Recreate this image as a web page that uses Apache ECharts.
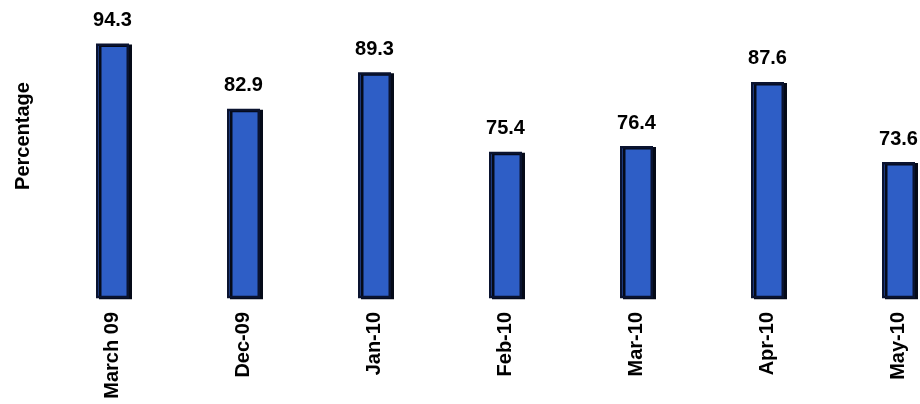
<!DOCTYPE html>
<html>
<head>
<meta charset="utf-8">
<script src="https://cdn.jsdelivr.net/npm/echarts@6/dist/echarts.min.js"></script>
<style>
html,body{margin:0;padding:0;background:#fff;}
#c{width:920px;height:404px;}
</style>
</head>
<body>
<div id="c"></div>
<script>
const categories = ['March 09', 'Dec-09', 'Jan-10', 'Feb-10', 'Mar-10', 'Apr-10', 'May-10'];
const values = [94.3, 82.9, 89.3, 75.4, 76.4, 87.6, 73.6];
const yAxisName = 'Percentage';

const chart = echarts.init(document.getElementById('c'));
chart.setOption({
  backgroundColor: '#ffffff',
  animation: false,
  grid: { left: 47, right: -44, top: 11, bottom: 107, containLabel: false, outerBoundsMode: 'none' },
  xAxis: {
    type: 'category',
    data: categories,
    axisLine: { show: false },
    axisTick: { show: false },
    axisLabel: {
      rotate: 90,
      margin: 15,
      color: '#000',
      fontFamily: 'Liberation Sans, Arial, sans-serif',
      fontWeight: 'bold',
      fontSize: 20
    }
  },
  yAxis: {
    type: 'value',
    min: 50,
    max: 100,
    name: yAxisName,
    nameLocation: 'middle',
    nameGap: 14,
    nameRotate: 90,
    nameTextStyle: {
      color: '#000',
      fontFamily: 'Liberation Sans, Arial, sans-serif',
      fontWeight: 'bold',
      fontSize: 20,
      padding: [0, 0, 0, 36]
    },
    axisLine: { show: false },
    axisTick: { show: false },
    axisLabel: { show: false },
    splitLine: { show: false }
  },
  series: [{
    type: 'bar',
    data: values,
    barWidth: 33,
    itemStyle: {
      color: '#2e5ec6',
      borderColor: '#0a1330',
      borderWidth: 2.5,
      shadowColor: '#050a18',
      shadowOffsetX: 3,
      shadowOffsetY: 1,
      shadowBlur: 0
    },
    label: {
      show: true,
      position: 'top',
      distance: 13,
      color: '#000',
      fontFamily: 'Liberation Sans, Arial, sans-serif',
      fontWeight: 'bold',
      fontSize: 20,
      formatter: p => p.value.toFixed(1)
    }
  }]
});
</script>
</body>
</html>
